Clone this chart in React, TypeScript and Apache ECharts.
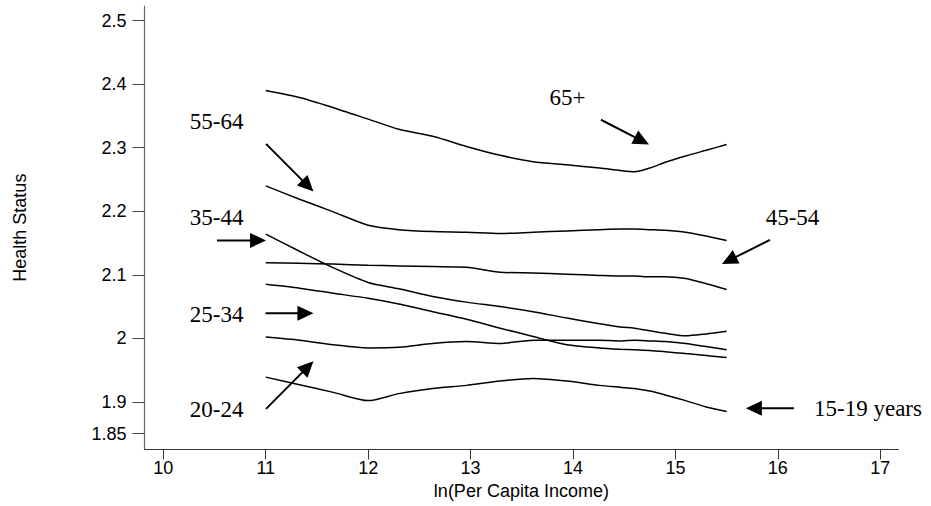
import React, { useEffect, useRef } from "react";
import * as echarts from "echarts";

// ln(Per Capita Income) sample positions shared by all curves
const X = [11, 11.33, 11.66, 12, 12.3, 12.63, 12.96, 13.29, 13.61, 13.94, 14.26, 14.46, 14.6, 14.75, 14.9, 15.1, 15.3, 15.5];

// Health status by age group
const age65plus = [2.39, 2.379, 2.363, 2.345, 2.329, 2.318, 2.302, 2.288, 2.278, 2.273, 2.268, 2.264, 2.262, 2.268, 2.277, 2.287, 2.296, 2.305];
const age55to64 = [2.24, 2.219, 2.199, 2.178, 2.171, 2.168, 2.167, 2.165, 2.167, 2.169, 2.171, 2.172, 2.172, 2.171, 2.17, 2.167, 2.161, 2.154];
const age45to54 = [2.119, 2.118, 2.117, 2.115, 2.114, 2.113, 2.112, 2.104, 2.103, 2.101, 2.099, 2.098, 2.098, 2.097, 2.097, 2.094, 2.086, 2.077];
const age35to44 = [2.164, 2.137, 2.111, 2.088, 2.078, 2.066, 2.057, 2.05, 2.042, 2.032, 2.023, 2.018, 2.016, 2.012, 2.008, 2.004, 2.007, 2.011];
const age25to34 = [2.085, 2.079, 2.071, 2.063, 2.054, 2.042, 2.03, 2.016, 2.003, 1.99, 1.985, 1.983, 1.982, 1.981, 1.979, 1.976, 1.973, 1.97];
const age20to24 = [2.002, 1.997, 1.99, 1.985, 1.986, 1.992, 1.995, 1.992, 1.997, 1.997, 1.997, 1.996, 1.997, 1.996, 1.995, 1.992, 1.987, 1.982];
const age15to19 = [1.939, 1.927, 1.915, 1.902, 1.913, 1.921, 1.926, 1.933, 1.937, 1.933, 1.926, 1.923, 1.921, 1.917, 1.911, 1.902, 1.892, 1.885];

const curves = [age65plus, age55to64, age45to54, age35to44, age25to34, age20to24, age15to19];

// Annotation labels (data coordinates)
const labelText = ["65+", "55-64", "45-54", "35-44", "25-34", "20-24", "15-19 years"];
const labelX = [13.946, 10.521, 16.143, 10.521, 10.521, 10.521, 16.88];
const labelY = [2.379, 2.342, 2.19, 2.1895, 2.038, 1.888, 1.889];

// Arrows: start (x, y) -> tip (x, y)
const arrowX1 = [14.273, 11.003, 15.923, 10.524, 10.998, 11.003, 16.157];
const arrowY1 = [2.344, 2.306, 2.155, 2.154, 2.0395, 1.889, 1.89];
const arrowX2 = [14.742, 11.466, 15.454, 11.003, 11.466, 11.466, 15.688];
const arrowY2 = [2.305, 2.231, 2.117, 2.154, 2.0395, 1.964, 1.89];

// Axis ticks
const xTicks = [10, 11, 12, 13, 14, 15, 16, 17];
const yTicks = [1.85, 1.9, 2, 2.1, 2.2, 2.3, 2.4, 2.5];

export default function App() {
  const ref = useRef<HTMLDivElement>(null);
  useEffect(() => {
    const chart = echarts.init(ref.current!, null, { renderer: "svg" });
    const sans = "'Liberation Sans', Arial, sans-serif";
    const serif = "'Liberation Serif', 'Times New Roman', serif";

    const lineSeries = curves.map((ys) => ({
      type: "line",
      data: X.map((x, i) => [x, ys[i]]),
      showSymbol: false,
      smooth: 0.25,
      lineStyle: { color: "#000", width: 1.5 },
      silent: true,
    }));

    const option: any = {
      animation: false,
      backgroundColor: "#fff",
      grid: { left: 144.5, right: 32.7, top: 6, bottom: 56.7 },
      xAxis: {
        type: "value",
        min: 9.8165,
        max: 17.176,
        name: "ln(Per Capita Income)",
        nameLocation: "middle",
        nameGap: 26,
        nameTextStyle: { fontFamily: sans, fontSize: 18, color: "#000" },
        axisLine: { onZero: false, lineStyle: { color: "#333", width: 1.2 } },
        axisTick: { customValues: xTicks, length: 10, lineStyle: { color: "#333" } },
        axisLabel: {
          customValues: xTicks,
          margin: 10,
          fontFamily: sans,
          fontSize: 18,
          color: "#000",
        },
        splitLine: { show: false },
      },
      yAxis: {
        type: "value",
        min: 1.8254,
        max: 2.523,
        name: "Health Status",
        nameLocation: "middle",
        nameGap: 116,
        nameRotate: 90,
        nameTextStyle: { fontFamily: sans, fontSize: 18, color: "#000" },
        axisLine: { show: true, onZero: false, lineStyle: { color: "#666", width: 1.2 } },
        axisTick: { show: true, customValues: yTicks, length: 12, lineStyle: { color: "#444" } },
        axisLabel: {
          customValues: yTicks,
          margin: 18,
          fontFamily: sans,
          fontSize: 18,
          color: "#000",
          formatter: (v: number) => String(+v.toFixed(2)),
        },
        splitLine: { show: false },
      },
      series: [
        ...lineSeries,
        {
          type: "custom",
          silent: true,
          clip: false,
          data: arrowX1.map((x, i) => [x, arrowY1[i], arrowX2[i], arrowY2[i]]),
          encode: { x: [0, 2], y: [1, 3] },
          renderItem: (_params: any, api: any) => {
            const p1 = api.coord([api.value(0), api.value(1)]);
            const p2 = api.coord([api.value(2), api.value(3)]);
            const dx = p2[0] - p1[0];
            const dy = p2[1] - p1[1];
            const len = Math.hypot(dx, dy) || 1;
            const ux = dx / len;
            const uy = dy / len;
            const headL = 16;
            const headW = 7.5;
            const bx = p2[0] - ux * headL;
            const by = p2[1] - uy * headL;
            return {
              type: "group",
              children: [
                {
                  type: "line",
                  shape: { x1: p1[0], y1: p1[1], x2: bx + ux * 2, y2: by + uy * 2 },
                  style: { stroke: "#000", lineWidth: 2 },
                },
                {
                  type: "polygon",
                  shape: {
                    points: [
                      [p2[0], p2[1]],
                      [bx - uy * headW, by + ux * headW],
                      [bx + uy * headW, by - ux * headW],
                    ],
                  },
                  style: { fill: "#000" },
                },
              ],
            };
          },
        },
        {
          type: "custom",
          silent: true,
          clip: false,
          data: labelText.map((t, i) => [labelX[i], labelY[i], i]),
          renderItem: (_params: any, api: any) => {
            const p = api.coord([api.value(0), api.value(1)]);
            const t = labelText[api.value(2)];
            return {
              type: "text",
              x: p[0],
              y: p[1],
              style: {
                text: t,
                fontFamily: serif,
                fontSize: 23,
                fill: "#000",
                align: "center",
                verticalAlign: "middle",
              },
            };
          },
        },
      ],
    };
    chart.setOption(option);
    return () => chart.dispose();
  }, []);
  return (
    <div
      ref={ref}
      style={{ position: "absolute", left: 0, top: 0, width: 931, height: 506 }}
    />
  );
}
